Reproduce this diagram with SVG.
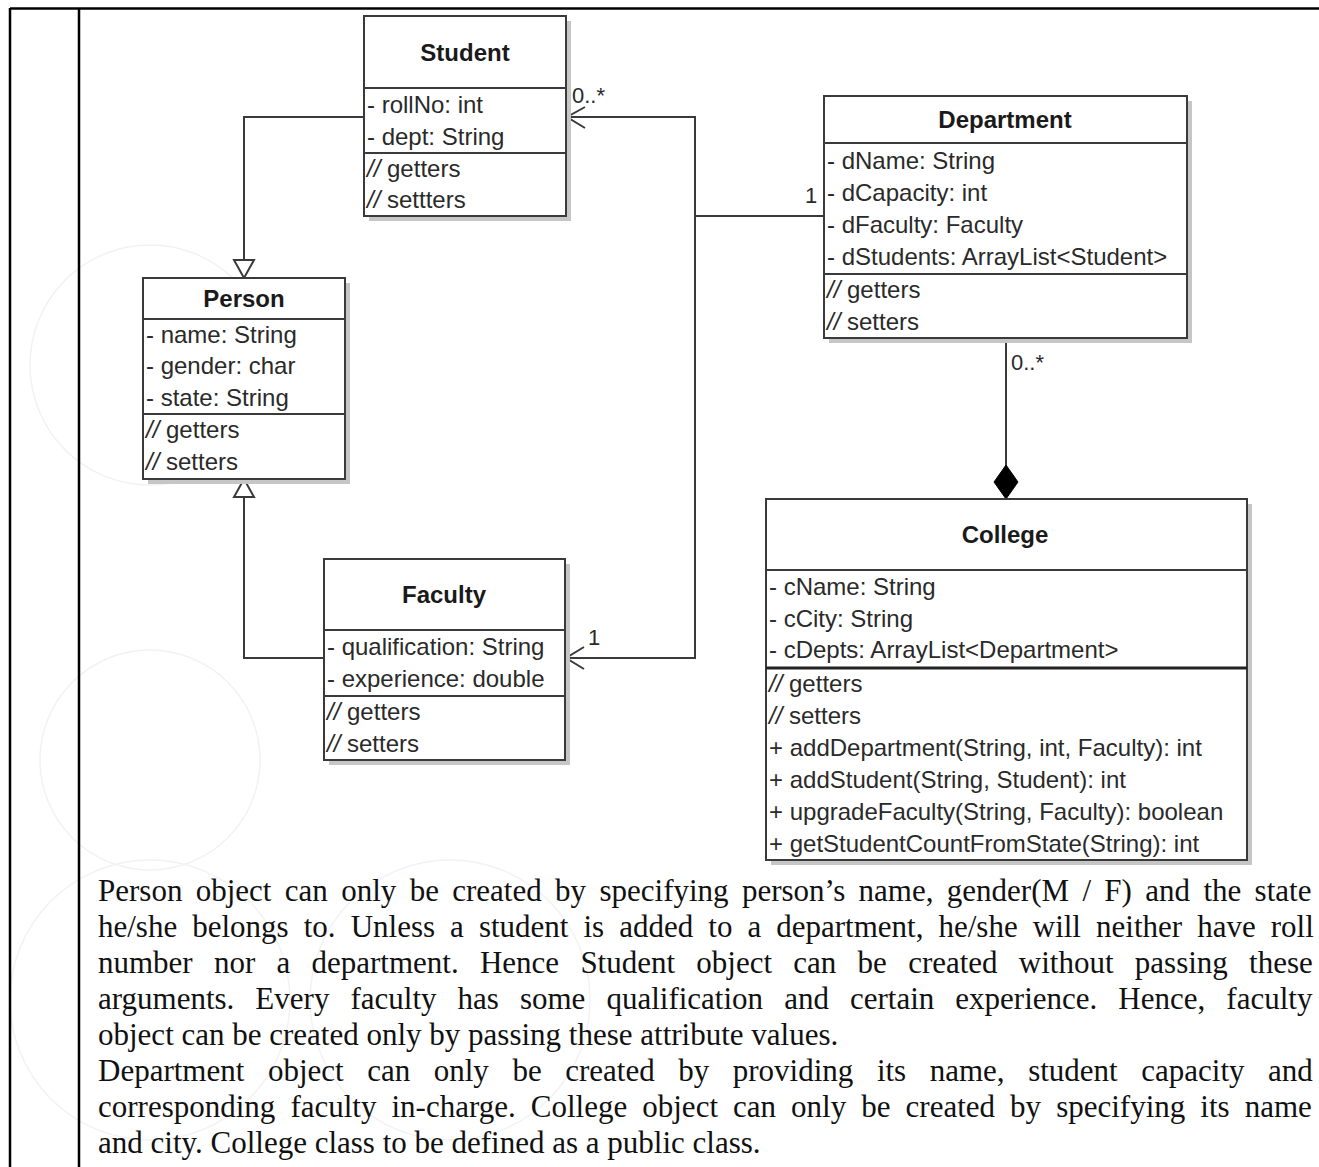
<svg xmlns="http://www.w3.org/2000/svg" width="1319" height="1167" viewBox="0 0 1319 1167">
<defs>
<style>
.box{fill:#fff;stroke:#3a3a3a;stroke-width:2}
.shadow{fill:#c6c6c6}
.div{stroke:#3a3a3a;stroke-width:2}
.ttl{font-family:"Liberation Sans",Arial,sans-serif;font-size:24px;font-weight:bold;fill:#1a1a1a;text-anchor:middle}
.att{font-family:"Liberation Sans",Arial,sans-serif;font-size:24px;fill:#2a2a2a}
.it{font-style:italic}
.lbl{font-family:"Liberation Sans",Arial,sans-serif;font-size:22px;fill:#2a2a2a}
.con{fill:none;stroke:#3a3a3a;stroke-width:2}
.para{font-family:"Liberation Serif","Times New Roman",serif;font-size:31px;fill:#111}
.wm{fill:none;stroke:#f2f2f2;stroke-width:1.5}
.frame{stroke:#000;stroke-width:2.5}
</style>
</defs>
<rect width="1319" height="1167" fill="#fff"/>
<g id="watermark">
<circle class="wm" cx="150" cy="365" r="120"/>
<circle class="wm" cx="150" cy="760" r="110"/>
<circle class="wm" cx="150" cy="1000" r="140"/>
<circle class="wm" cx="450" cy="1000" r="140"/>
</g>
<g id="frame">
<line class="frame" x1="10" y1="8.5" x2="1319" y2="8.5"/>
<line class="frame" x1="10" y1="8" x2="10" y2="1167"/>
<line class="frame" x1="79" y1="8" x2="79" y2="1167"/>
</g>
<g id="connectors">
<path class="con" d="M364,117 H244 V260"/>
<polygon class="con" points="234,260 254,260 244,278" style="fill:#fff"/>
<path class="con" d="M324,658 H244 V497"/>
<polygon class="con" points="234,497 254,497 244,479" style="fill:#fff"/>
<path class="con" d="M566,117 H695 V658 H565"/>
<path class="con" d="M695,216 H824"/>
<path class="con" d="M585,107 L567,117 L585,128"/>
<path class="con" d="M584,647 L566,658 L584,669"/>
<path class="con" d="M1006,338 V466"/>
<polygon points="1006,465 1018,482 1006,499 994,482" fill="#000" stroke="#000" stroke-width="1"/>
<text class="lbl" x="572" y="103">0..*</text>
<text class="lbl" x="805" y="203">1</text>
<text class="lbl" x="588" y="645">1</text>
<text class="lbl" x="1011" y="370">0..*</text>
</g>
<g id="student">
<rect class="shadow" x="369" y="21" width="202" height="200"/>
<rect class="box" x="364" y="16" width="202" height="200"/>
<line class="div" x1="364" y1="88" x2="566" y2="88"/>
<line class="div" x1="364" y1="153" x2="566" y2="153"/>
<text class="ttl" x="465" y="61">Student</text>
<text class="att" x="367" y="113">- rollNo: int</text>
<text class="att" x="367" y="145">- dept: String</text>
<text class="att" x="367" y="177"><tspan class="it">//</tspan> getters</text>
<text class="att" x="367" y="208"><tspan class="it">//</tspan> settters</text>
</g>
<g id="department">
<rect class="shadow" x="829" y="101" width="363" height="242"/>
<rect class="box" x="824" y="96" width="363" height="242"/>
<line class="div" x1="824" y1="143" x2="1187" y2="143"/>
<line class="div" x1="824" y1="274" x2="1187" y2="274"/>
<text class="ttl" x="1005" y="128">Department</text>
<text class="att" x="827" y="169">- dName: String</text>
<text class="att" x="827" y="201">- dCapacity: int</text>
<text class="att" x="827" y="233">- dFaculty: Faculty</text>
<text class="att" x="827" y="265">- dStudents: ArrayList&lt;Student&gt;</text>
<text class="att" x="827" y="298"><tspan class="it">//</tspan> getters</text>
<text class="att" x="827" y="330"><tspan class="it">//</tspan> setters</text>
</g>
<g id="person">
<rect class="shadow" x="148" y="283" width="202" height="201"/>
<rect class="box" x="143" y="278" width="202" height="201"/>
<line class="div" x1="143" y1="319" x2="345" y2="319"/>
<line class="div" x1="143" y1="414" x2="345" y2="414"/>
<text class="ttl" x="244" y="307">Person</text>
<text class="att" x="146" y="343">- name: String</text>
<text class="att" x="146" y="374">- gender: char</text>
<text class="att" x="146" y="406">- state: String</text>
<text class="att" x="146" y="438"><tspan class="it">//</tspan> getters</text>
<text class="att" x="146" y="470"><tspan class="it">//</tspan> setters</text>
</g>
<g id="faculty">
<rect class="shadow" x="329" y="564" width="241" height="201"/>
<rect class="box" x="324" y="559" width="241" height="201"/>
<line class="div" x1="324" y1="630" x2="565" y2="630"/>
<line class="div" x1="324" y1="696" x2="565" y2="696"/>
<text class="ttl" x="444" y="603">Faculty</text>
<text class="att" x="327" y="655">- qualification: String</text>
<text class="att" x="327" y="687">- experience: double</text>
<text class="att" x="327" y="720"><tspan class="it">//</tspan> getters</text>
<text class="att" x="327" y="752"><tspan class="it">//</tspan> setters</text>
</g>
<g id="college">
<rect class="shadow" x="771" y="504" width="481" height="361"/>
<rect class="box" x="766" y="499" width="481" height="361"/>
<line class="div" x1="766" y1="570" x2="1247" y2="570"/>
<line x1="766" y1="668" x2="1247" y2="668" stroke="#222" stroke-width="3"/>
<text class="ttl" x="1005" y="543">College</text>
<text class="att" x="769" y="595">- cName: String</text>
<text class="att" x="769" y="627">- cCity: String</text>
<text class="att" x="769" y="658">- cDepts: ArrayList&lt;Department&gt;</text>
<text class="att" x="769" y="692"><tspan class="it">//</tspan> getters</text>
<text class="att" x="769" y="724"><tspan class="it">//</tspan> setters</text>
<text class="att" x="769" y="756">+ addDepartment(String, int, Faculty): int</text>
<text class="att" x="769" y="788">+ addStudent(String, Student): int</text>
<text class="att" x="769" y="820">+ upgradeFaculty(String, Faculty): boolean</text>
<text class="att" x="769" y="852">+ getStudentCountFromState(String): int</text>
</g>
<g id="description">
<text class="para" x="98" y="901" word-spacing="5.6">Person object can only be created by specifying person’s name, gender(M / F) and the state</text>
<text class="para" x="98" y="937" word-spacing="7.3">he/she belongs to. Unless a student is added to a department, he/she will neither have roll</text>
<text class="para" x="98" y="973" word-spacing="13.5">number nor a department. Hence Student object can be created without passing these</text>
<text class="para" x="98" y="1009" word-spacing="13.3">arguments. Every faculty has some qualification and certain experience. Hence, faculty</text>
<text class="para" x="98" y="1045">object can be created only by passing these attribute values.</text>
<text class="para" x="98" y="1081" word-spacing="15.8">Department object can only be created by providing its name, student capacity and</text>
<text class="para" x="98" y="1117" word-spacing="7.3">corresponding faculty in-charge. College object can only be created by specifying its name</text>
<text class="para" x="98" y="1153">and city. College class to be defined as a public class.</text>
</g>
</svg>
